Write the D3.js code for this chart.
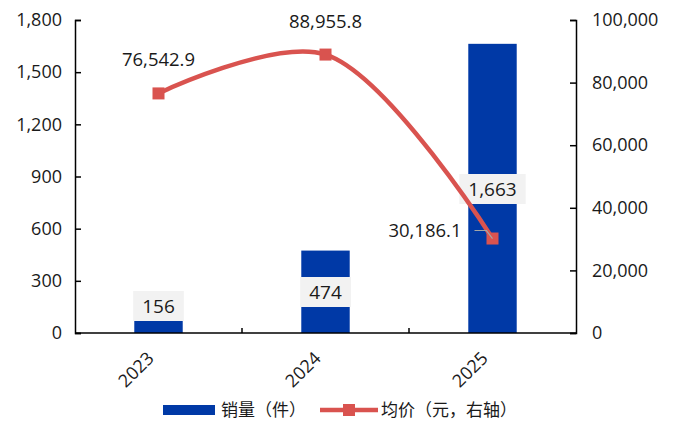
<!DOCTYPE html>
<html>
<head>
<meta charset="utf-8">
<script src="https://cdn.jsdelivr.net/npm/d3@7"></script>
<style>
  body { margin: 0; background: #fff; }
  svg { display: block; }
  text { font-family: "Open Sans", "Noto Sans CJK SC", sans-serif; fill: #1a1a1a; }
</style>
</head>
<body>
<svg id="chart" width="676" height="430"></svg>
<script>
// Sales volume (bars, left axis) and average price (line, right axis)
const years = ["2023", "2024", "2025"];
const volume = [156, 474, 1663];
const price = [76542.9, 88955.8, 30186.1];
const leftTicks = [0, 300, 600, 900, 1200, 1500, 1800];
const rightTicks = [0, 20000, 40000, 60000, 80000, 100000];
const seriesNames = ["销量（件）", "均价（元，右轴）"];

const svg = d3.select("#chart");
const m = { left: 75, right: 576, top: 20, bottom: 333 };
const blue = "#0039a6";
const red = "#d9534f";
const numFont = "'Open Sans', sans-serif";

const x = d3.scaleBand().domain(years).range([m.left, m.right]).paddingInner(0.71).paddingOuter(0.355);
const yL = d3.scaleLinear().domain([0, 1800]).range([m.bottom, m.top]);
const yR = d3.scaleLinear().domain([0, 100000]).range([m.bottom, m.top]);
const fmt = d3.format(",");
const fmt1 = d3.format(",.1f");

// Axes
const axL = svg.append("g").attr("transform", `translate(${m.left},0)`)
  .call(d3.axisLeft(yL).tickValues(leftTicks).tickFormat(fmt).tickSizeInner(-6).tickSizeOuter(-6).tickPadding(13));
const axR = svg.append("g").attr("transform", `translate(${m.right},0)`)
  .call(d3.axisRight(yR).tickValues(rightTicks).tickFormat(fmt).tickSizeInner(-6).tickSizeOuter(-6).tickPadding(16));
[axL, axR].forEach(a => {
  a.select(".domain").attr("stroke", "#000").attr("stroke-width", 1.5);
  a.selectAll(".tick line").attr("stroke", "#000").attr("stroke-width", 1.5);
  a.selectAll(".tick text").attr("font-size", 18).attr("fill", "#1a1a1a")
    .attr("font-family", numFont);
});

// Bars
svg.append("g").selectAll("rect").data(years).join("rect")
  .attr("x", d => x(d)).attr("width", x.bandwidth())
  .attr("y", (d, i) => yL(volume[i])).attr("height", (d, i) => m.bottom - yL(volume[i]))
  .attr("fill", blue);

// Bottom axis line with category labels
const axB = svg.append("g").attr("transform", `translate(0,${m.bottom})`)
  .call(d3.axisBottom(x).tickSize(0).tickPadding(0));
axB.select(".domain").attr("stroke", "#000").attr("stroke-width", 1.5).attr("d", `M${m.left},0H${m.right}`);
axB.selectAll(".tick text")
  .attr("font-size", 18).attr("text-anchor", "end").attr("fill", "#1a1a1a")
  .attr("font-family", numFont)
  .attr("transform", "translate(-8,22) rotate(-45)").attr("dy", "0.35em");
// Divider ticks between categories
axB.selectAll(".divider").data(years.slice(1)).join("line")
  .attr("x1", d => x(d) - x.step() * x.paddingInner() / 2)
  .attr("x2", d => x(d) - x.step() * x.paddingInner() / 2)
  .attr("y1", 0).attr("y2", -5).attr("stroke", "#000").attr("stroke-width", 1.5);

// Bar value labels in light boxes
const barLabelY = [306, 292, 189];
years.forEach((yr, i) => {
  const cx = x(yr) + x.bandwidth() / 2;
  const g = svg.append("g");
  const t = g.append("text").attr("x", cx).attr("y", barLabelY[i]).attr("dy", "0.35em")
    .attr("text-anchor", "middle").attr("font-size", 19).attr("font-family", numFont).text(fmt(volume[i]));
  const bb = t.node().getBBox();
  g.insert("rect", "text").attr("x", bb.x - 9).attr("y", barLabelY[i] - 15)
    .attr("width", bb.width + 18).attr("height", 30).attr("fill", "#f2f2f2");
});

// Smoothed price line
const pts = years.map((d, i) => [x(d) + x.bandwidth() / 2, yR(price[i])]);
svg.append("path").datum(pts)
  .attr("d", d3.line().curve(d3.curveCatmullRom.alpha(0.5)))
  .attr("fill", "none").attr("stroke", red).attr("stroke-width", 4.5);

svg.append("g").selectAll("rect").data(pts).join("rect")
  .attr("x", d => d[0] - 6).attr("y", d => d[1] - 6)
  .attr("width", 12).attr("height", 12).attr("fill", red);

// Price labels
const p = pts;
svg.append("text").attr("x", p[0][0]).attr("y", p[0][1] - 34).attr("dy", "0.35em")
  .attr("text-anchor", "middle").attr("font-size", 18.5).attr("font-family", numFont).text(fmt1(price[0]));
svg.append("text").attr("x", p[1][0]).attr("y", p[1][1] - 33).attr("dy", "0.35em")
  .attr("text-anchor", "middle").attr("font-size", 18.5).attr("font-family", numFont).text(fmt1(price[1]));
svg.append("text").attr("x", p[2][0] - 31).attr("y", p[2][1] - 8).attr("dy", "0.35em")
  .attr("text-anchor", "end").attr("font-size", 18.5).attr("font-family", numFont).text(fmt1(price[2]));
svg.append("path").attr("d", `M${p[2][0] - 18},${p[2][1] - 8}H${p[2][0] - 6}L${p[2][0]},${p[2][1]}`)
  .attr("fill", "none").attr("stroke", "#a6a6a6").attr("stroke-width", 1.2);

// Legend
const lg = svg.append("g").attr("transform", "translate(0,410)");
lg.append("rect").attr("x", 163).attr("y", -5).attr("width", 52).attr("height", 10).attr("fill", blue);
lg.append("text").attr("x", 221).attr("dy", "0.35em").attr("font-size", 17)
  .attr("font-family", "'Noto Sans CJK SC', sans-serif").text(seriesNames[0]);
lg.append("line").attr("x1", 320).attr("x2", 378).attr("stroke", red).attr("stroke-width", 4.5);
lg.append("rect").attr("x", 343).attr("y", -6).attr("width", 12).attr("height", 12).attr("fill", red);
lg.append("text").attr("x", 381).attr("dy", "0.35em").attr("font-size", 17)
  .attr("font-family", "'Noto Sans CJK SC', sans-serif").text(seriesNames[1]);
</script>
</body>
</html>
